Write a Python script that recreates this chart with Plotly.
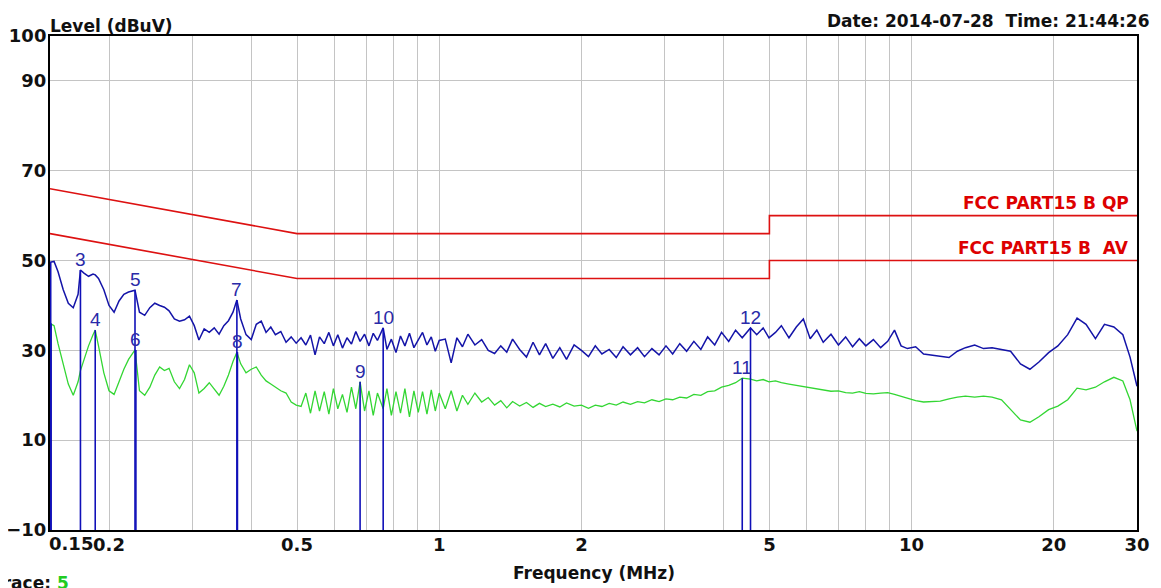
import math
import plotly.graph_objects as go

# ---------------- data ----------------
freq_mhz = [
    0.150, 0.153, 0.156, 0.160, 0.164, 0.168, 0.172, 0.174, 0.177, 0.181, 0.185, 0.187, 0.190, 0.195,
    0.200, 0.205, 0.210, 0.215, 0.220, 0.227, 0.232, 0.238, 0.244, 0.250, 0.256, 0.262, 0.268, 0.275,
    0.282, 0.289, 0.296, 0.303, 0.310, 0.318, 0.326, 0.334, 0.342, 0.350, 0.358, 0.366, 0.373, 0.380,
    0.390, 0.400, 0.410, 0.420, 0.430, 0.440, 0.450, 0.462, 0.474, 0.486, 0.498,
    0.510, 0.522, 0.534, 0.546, 0.558, 0.571, 0.584, 0.597, 0.610, 0.624, 0.638, 0.652, 0.666, 0.680,
    0.695, 0.710, 0.725, 0.740, 0.761, 0.775, 0.792, 0.810, 0.828, 0.846, 0.865, 0.884, 0.903, 0.922,
    0.942, 0.962, 0.981, 1.000,
    1.03, 1.06, 1.09, 1.12, 1.15, 1.19, 1.23, 1.27, 1.31, 1.35, 1.39, 1.43, 1.48, 1.53, 1.58, 1.63,
    1.68, 1.74, 1.80, 1.86, 1.93, 2.00, 2.07, 2.14, 2.21, 2.29, 2.37, 2.45, 2.54, 2.63, 2.72, 2.82,
    2.92, 3.02, 3.12, 3.23, 3.34, 3.46, 3.58, 3.70, 3.83, 3.96, 4.10, 4.24, 4.38, 4.56, 4.70, 4.85, 4.99,
    5.15, 5.3, 5.5, 5.7, 5.9, 6.1, 6.3, 6.5, 6.75, 7.0, 7.25, 7.5, 7.75, 8.0, 8.3, 8.6, 8.9, 9.2, 9.5,
    9.8, 10.2, 10.6, 11.0, 11.5, 12.0, 12.5, 13.0, 13.6, 14.2, 14.8, 15.5, 16.2, 17.0, 17.8, 18.6, 19.5,
    20.4, 21.4, 22.4, 23.4, 24.5, 25.6, 26.8, 28.0, 29.0, 30.0,
]

qp_level = [
    49.6, 49.8, 47.5, 43.5, 40.5, 39.5, 42.5, 47.9, 47.2, 46.5, 47.0, 46.8, 46.0, 43.5,
    40.0, 38.5, 41.0, 42.5, 43.0, 43.4, 38.5, 37.8, 39.5, 40.5, 40.0, 39.6, 38.8, 37.0,
    36.5, 36.8, 37.6, 35.5, 32.3, 34.8, 34.0, 35.0, 33.6, 35.5, 36.6, 38.5, 41.2, 37.0,
    33.5, 32.4, 35.8, 36.5, 34.0, 35.2, 33.5, 34.2, 31.8, 33.0, 31.6,
    32.8, 31.2, 33.4, 29.0, 33.0, 31.5, 34.0, 31.0, 33.5, 30.5, 32.8, 31.4, 34.2, 32.0,
    33.6, 31.0, 33.8, 32.2, 35.0, 30.2, 32.5, 29.5, 33.2, 31.0, 33.8, 30.6, 32.4, 34.0,
    31.2, 33.0, 29.8, 32.2,
    32.5, 27.2, 32.8, 30.8, 33.6, 31.2, 32.4, 30.0, 29.3, 31.0, 29.6, 32.5, 30.2, 28.5, 31.8, 29.0,
    31.5, 28.2, 30.6, 28.0, 31.2, 30.0, 28.6, 31.0, 29.2, 30.2, 28.4, 30.8, 29.0, 30.6, 28.6, 30.4,
    29.0, 31.0, 29.2, 31.5, 29.8, 32.0, 30.2, 33.0, 31.2, 34.0, 32.0, 34.5, 32.8, 35.0, 33.5, 35.0, 32.8,
    34.0, 35.5, 32.8, 35.2, 37.0, 32.6, 34.5, 31.8, 33.6, 31.2, 33.0, 30.8, 32.6, 31.0, 32.4, 30.6, 32.0, 34.5, 31.0,
    30.4, 30.8, 29.2, 29.0, 28.6, 28.4, 29.8, 30.6, 31.2, 30.4, 30.6, 30.2, 29.8, 27.0, 25.8, 27.4, 29.5,
    31.0, 33.5, 37.2, 35.8, 32.6, 35.8, 35.2, 33.5, 28.5, 22.0,
]

av_level = [
    36.0, 35.5, 31.5, 27.0, 22.5, 20.0, 23.0, 25.5, 28.0, 31.0, 33.5, 34.5, 31.0, 25.0,
    21.0, 20.2, 23.0, 25.8, 28.0, 30.1, 21.0, 20.0, 21.8, 24.5, 26.3, 25.5, 26.0, 23.0,
    21.5, 23.5, 26.8, 25.0, 20.5, 21.5, 22.8, 21.5, 20.0, 22.0, 24.5, 27.5, 29.6, 27.0,
    25.0, 25.8, 26.3, 24.5, 23.2, 22.5, 21.8, 21.0, 20.5, 18.5, 17.8,
    17.5, 20.5, 16.0, 21.0, 16.5, 20.8, 15.8, 21.5, 17.0, 20.2, 16.2, 21.8, 17.0, 23.0,
    16.5, 21.0, 15.5, 20.5, 17.0, 21.5, 15.5, 20.8, 16.0, 21.5, 15.2, 21.0, 16.2, 20.8,
    15.8, 21.2, 16.5, 20.5,
    17.0, 21.0, 16.5, 20.0, 18.0, 20.5, 18.5, 19.5, 17.8, 18.8, 17.2, 18.6, 17.6, 18.4, 17.3, 18.2,
    17.5, 18.0, 17.4, 18.3, 17.6, 17.8, 17.1, 17.8, 17.5, 18.2, 17.8, 18.5, 18.0, 18.6, 18.3, 19.0,
    18.6, 19.2, 19.0, 19.6, 19.4, 20.2, 20.0, 20.8, 21.0, 21.8, 22.2, 22.8, 23.8, 23.6, 23.2, 23.5, 23.0,
    23.2, 22.8, 22.5, 22.2, 21.9, 21.6, 21.5, 21.2, 20.9, 21.0, 20.6, 20.5, 20.8, 20.4, 20.3, 20.5, 20.6, 20.2, 19.8,
    19.4, 18.8, 18.5, 18.6, 18.7, 19.2, 19.6, 19.8, 19.6, 19.8, 19.6, 19.0, 16.8, 14.5, 14.0, 15.2, 16.8,
    17.6, 19.0, 21.6, 21.2, 21.8, 23.0, 24.0, 23.2, 19.0, 12.0,
]

# limit lines (FCC Part 15 B)
limit_freq = [0.15, 0.5, 5.0, 5.0, 30.0]
qp_limit = [66, 56, 56, 60, 60]
av_limit = [56, 46, 46, 50, 50]
limit_names = ["FCC PART15 B QP", "FCC PART15 B\u00a0\u00a0AV"]

# markers: number, frequency (MHz), level (dBuV)
marker_no = ["1", "2", "3", "4", "5", "6", "7", "8", "9", "10", "11", "12"]
marker_freq = [0.1500, 0.1503, 0.174, 0.187, 0.227, 0.228, 0.373, 0.374, 0.680, 0.761, 4.38, 4.56]
marker_level = [49.6, 36.0, 47.9, 34.5, 43.4, 30.1, 41.2, 29.6, 23.0, 35.0, 23.8, 35.0]
marker_show_label = [False, False, True, True, True, True, True, True, True, True, True, True]

y_ticks = [-10, 10, 30, 50, 70, 90, 100]
x_grid = [0.15, 0.2, 0.3, 0.4, 0.5, 0.6, 0.7, 0.8, 0.9, 1, 2, 3, 4, 5, 6, 7, 8, 9, 10, 20, 30]
x_labels = {0.2: "0.2", 0.5: "0.5", 1: "1", 2: "2", 5: "5", 10: "10", 20: "20", 30: "30"}

# ---------------- figure ----------------
BOLD = "DejaVu Sans"
TXT = "#111111"
fig = go.Figure()

red = "#dd1111"
fig.add_trace(go.Scatter(x=limit_freq, y=qp_limit, mode="lines",
                         line=dict(color=red, width=1.6), hoverinfo="skip"))
fig.add_trace(go.Scatter(x=limit_freq, y=av_limit, mode="lines",
                         line=dict(color=red, width=1.6), hoverinfo="skip"))

fig.add_trace(go.Scatter(x=freq_mhz, y=av_level, mode="lines",
                         line=dict(color="#33d633", width=1.3)))
fig.add_trace(go.Scatter(x=freq_mhz, y=qp_level, mode="lines",
                         line=dict(color="#1414a8", width=1.5)))

for no, f, lv, show in zip(marker_no, marker_freq, marker_level, marker_show_label):
    w = 3 if f < 0.151 else 1.6
    fig.add_trace(go.Scatter(x=[f, f], y=[-10, lv], mode="lines",
                             line=dict(color="#1010b8", width=w), hoverinfo="skip"))
    if show:
        fig.add_annotation(x=math.log10(f), y=lv, xref="x", yref="y", text=no, showarrow=False,
                           xanchor="center", yanchor="bottom", yshift=-2,
                           font=dict(family="Liberation Sans", size=19, color="#2a2aa8"))

# limit labels
for name, lv in zip(limit_names, [qp_limit[-1], av_limit[-1]]):
    fig.add_annotation(x=1.0, y=lv, xref="paper", yref="y", text=name, showarrow=False,
                       xanchor="right", yanchor="bottom", xshift=-6, yshift=1,
                       font=dict(family=BOLD, size=17, color="#dd0000", weight="bold"))

# texts
fig.add_annotation(x=0, y=1, xref="paper", yref="paper", text="Level (dBuV)", showarrow=False,
                   xanchor="left", yanchor="bottom", xshift=-2, yshift=-2,
                   font=dict(family=BOLD, size=17, color=TXT, weight="bold"))
fig.add_annotation(x=1, y=1, xref="paper", yref="paper",
                   text="Date: 2014-07-28\u00a0\u00a0Time: 21:44:26", showarrow=False,
                   xanchor="right", yanchor="bottom", xshift=15, yshift=3,
                   font=dict(family=BOLD, size=17, color=TXT, weight="bold"))
fig.add_annotation(x=0.5, y=-0.087, xref="paper", yref="paper", text="Frequency (MHz)",
                   showarrow=False, xanchor="center", yanchor="middle",
                   font=dict(family=BOLD, size=17, color=TXT, weight="bold"))
fig.add_annotation(x=math.log10(0.15), y=-10, xref="x", yref="y", text="0.15", showarrow=False,
                   xanchor="left", yanchor="top", xshift=-3, yshift=-1,
                   font=dict(family=BOLD, size=18, color=TXT, weight="bold"))
fig.add_annotation(x=-0.0545, y=-0.107, xref="paper", yref="paper",
                   text="Trace: <span style='color:#22cc22'>5</span>", showarrow=False,
                   xanchor="left", yanchor="middle",
                   font=dict(family=BOLD, size=17, color=TXT, weight="bold"))

# page body has an 8px default margin, so margins are offset by 8px
fig.update_layout(
    width=1161, height=588,
    margin=dict(l=42, r=32, t=28, b=66),
    paper_bgcolor="white", plot_bgcolor="white",
    showlegend=False,
)
fig.update_xaxes(
    type="log", range=[math.log10(0.15), math.log10(30)],
    tickvals=x_grid, ticktext=[x_labels.get(v, "") for v in x_grid],
    showgrid=True, gridcolor="#c4c4c4", gridwidth=1,
    showline=True, linecolor="black", linewidth=2, mirror=True,
    ticks="", zeroline=False, automargin=False, ticklabelstandoff=-3,
    tickfont=dict(family=BOLD, size=18, color=TXT, weight="bold"),
)
fig.update_yaxes(
    range=[-10, 100], tickvals=y_ticks,
    showgrid=True, gridcolor="#c4c4c4", gridwidth=1,
    showline=True, linecolor="black", linewidth=2, mirror=True,
    ticks="", zeroline=False, automargin=False, ticklabelstandoff=-2,
    tickfont=dict(family=BOLD, size=18, color=TXT, weight="bold"),
)

fig.write_html("out.html")
